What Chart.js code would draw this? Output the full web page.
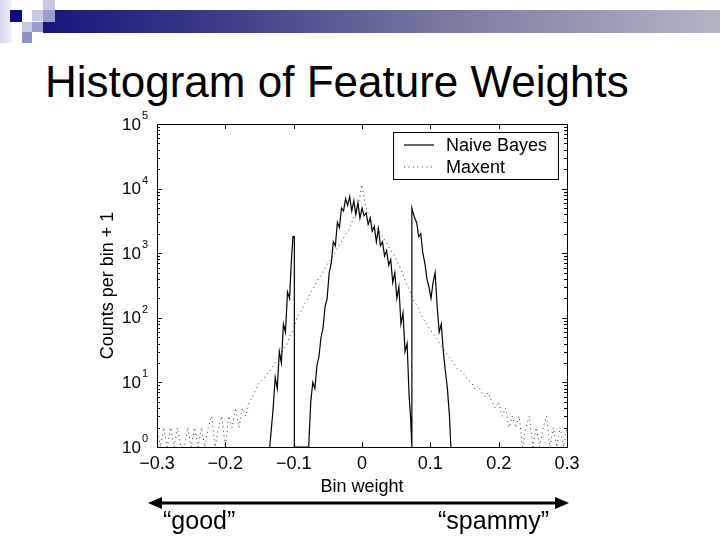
<!DOCTYPE html>
<html>
<head>
<meta charset="utf-8">
<script src="https://cdn.jsdelivr.net/npm/chart.js@4.4.1/dist/chart.umd.min.js"></script>
<style>
  body { margin: 0; background: #fff; }
  #slide { position: relative; width: 720px; height: 540px; overflow: hidden; background: #fff;
           font-family: "Liberation Sans", Arial, sans-serif; }
  .sq { position: absolute; }
  #title { position: absolute; left: 45px; top: 60px; font-size: 44px; line-height: 44px; color: #000; white-space: nowrap; }
  .lab { position: absolute; font-size: 25px; line-height: 25px; color: #000; white-space: nowrap; }
  canvas { position: absolute; left: 0; top: 0; }
</style>
</head>
<body>
<div id="slide">
  <div class="sq" style="left:0;top:0;width:12px;height:43px;background:linear-gradient(to right,#d4d4ec,#f4f4fa);"></div>
  <div class="sq" style="left:43px;top:10px;width:677px;height:23px;background:linear-gradient(to right,#16167e,#3a3a86 25%,#7a7aa2 60%,#b4b4c6);"></div>
  <div class="sq" style="left:10px;top:10px;width:12px;height:12px;background:#0c0c80;"></div>
  <div class="sq" style="left:32px;top:10px;width:11px;height:11px;background:#c8c8e4;"></div>
  <div class="sq" style="left:43px;top:0;width:12px;height:10px;background:#c8c8e4;"></div>
  <div class="sq" style="left:43px;top:10px;width:12px;height:12px;background:#9c9cd0;"></div>
  <div class="sq" style="left:22px;top:22px;width:10px;height:10px;background:#c8c8e4;"></div>
  <div class="sq" style="left:32px;top:22px;width:11px;height:10px;background:#9c9cd0;"></div>
  <div class="sq" style="left:22px;top:32px;width:10px;height:11px;background:#9090c8;"></div>
  <div id="title">Histogram of Feature Weights</div>
  <canvas id="chart" width="720" height="540"></canvas>
  <svg style="position:absolute;left:0;top:0" width="720" height="540">
    <line x1="160" y1="503" x2="557" y2="503" stroke="#000" stroke-width="3"/>
    <polygon points="148,503 162,497 162,509" fill="#000"/>
    <polygon points="569,503 555,497 555,509" fill="#000"/>
  </svg>
  <div class="lab" style="left:163px;top:508px;">“good”</div>
  <div class="lab" style="left:438px;top:508px;">“spammy”</div>
</div>
<script>
// x axis ticks
let xTicks = [-0.3, -0.2, -0.1, 0, 0.1, 0.2, 0.3];
let yDecades = [0, 1, 2, 3, 4, 5];

// Naive Bayes histogram (bin weight, counts per bin + 1)
let nbX = [-0.135, -0.130, -0.127, -0.124, -0.121, -0.118, -0.115, -0.112, -0.109, -0.106, -0.103, -0.101, -0.099, -0.099,
  -0.078, -0.075, -0.072, -0.069, -0.066, -0.063, -0.060, -0.057, -0.054, -0.051, -0.048, -0.045, -0.042, -0.039, -0.036,
  -0.033, -0.030, -0.027, -0.024, -0.021, -0.018, -0.015, -0.012, -0.009, -0.006, -0.003, 0.000, 0.003, 0.006, 0.009,
  0.012, 0.015, 0.018, 0.021, 0.024, 0.027, 0.030, 0.033, 0.036, 0.039, 0.042, 0.045, 0.048, 0.051, 0.054, 0.057,
  0.060, 0.063, 0.066, 0.069, 0.071, 0.073, 0.073, 0.077, 0.080, 0.083, 0.086, 0.089, 0.092, 0.095, 0.098, 0.101,
  0.104, 0.107, 0.110, 0.113, 0.116, 0.119, 0.122, 0.125, 0.128, 0.130];
let nbY = [1, 4, 12, 8, 30, 20, 80, 60, 250, 200, 900, 1800, 1800, 1,
  1, 5, 10, 8, 18, 25, 50, 70, 150, 200, 500, 700, 1500, 1300, 3000,
  2500, 5000, 4500, 7000, 5500, 7500, 4500, 6500, 4000, 6000, 3500, 5000, 3800, 4200, 2800,
  3500, 2200, 2600, 1500, 2400, 1300, 1500, 900, 1100, 650, 800, 350, 500, 200, 300, 80,
  120, 30, 40, 6, 3, 1, 5000, 3500, 3000, 1800, 2000, 1000, 700, 400, 300, 200,
  350, 500, 150, 60, 80, 30, 15, 8, 3, 1];

// Maxent histogram
let meX = [-0.300, -0.295, -0.290, -0.285, -0.280, -0.275, -0.270, -0.265, -0.260, -0.255, -0.250, -0.245, -0.240,
  -0.235, -0.230, -0.225, -0.220, -0.215, -0.210, -0.205, -0.200, -0.195, -0.190, -0.185, -0.180, -0.175, -0.170,
  -0.165, -0.160, -0.155, -0.150, -0.145, -0.140, -0.135, -0.130, -0.125, -0.120, -0.115, -0.110, -0.105, -0.100,
  -0.095, -0.090, -0.085, -0.080, -0.075, -0.070, -0.065, -0.060, -0.055, -0.050, -0.045, -0.040, -0.035, -0.030,
  -0.025, -0.020, -0.015, -0.010, -0.005, 0.000, 0.005, 0.010, 0.015, 0.020, 0.025, 0.030, 0.035, 0.040, 0.045,
  0.050, 0.055, 0.060, 0.065, 0.070, 0.075, 0.080, 0.085, 0.090, 0.095, 0.100, 0.105, 0.110, 0.115, 0.120, 0.125,
  0.130, 0.135, 0.140, 0.145, 0.150, 0.155, 0.160, 0.165, 0.170, 0.175, 0.180, 0.185, 0.190, 0.195, 0.200, 0.205,
  0.210, 0.215, 0.220, 0.225, 0.230, 0.235, 0.240, 0.245, 0.250, 0.255, 0.260, 0.265, 0.270, 0.275, 0.280, 0.285,
  0.290, 0.295, 0.300];
let meY = [2, 1, 2, 1, 2, 1, 2, 1, 1, 2, 1, 2, 1,
  2, 1, 2, 3, 1, 2, 3, 1, 3, 2, 4, 2, 4, 3,
  5, 6, 8, 10, 11, 13, 15, 18, 21, 24, 33, 38, 55, 65,
  100, 120, 160, 190, 250, 300, 380, 450, 560, 700, 820, 1000, 1250, 1500,
  1900, 2200, 3000, 4000, 6000, 11500, 5500, 3800, 3000, 2600, 2200, 1800, 1500, 1200, 1000,
  800, 620, 460, 340, 260, 190, 160, 120, 95, 80, 65, 55, 45, 38, 32, 27,
  23, 19, 16, 15, 13, 11, 10, 8, 9, 7, 6, 7, 5, 4, 5, 3,
  4, 2, 3, 2, 3, 1, 2, 3, 1, 2, 1, 2, 3, 1, 2, 1,
  2, 1, 2];

const FONT = '"Liberation Sans", Arial, sans-serif';

const frame = {
  id: 'frame',
  afterDatasetsDraw(chart) {
    const ctx = chart.ctx;
    const a = chart.chartArea;
    const x = chart.scales.x, y = chart.scales.y;
    ctx.save();
    ctx.strokeStyle = '#000';
    ctx.lineWidth = 1;
    ctx.beginPath();
    ctx.rect(Math.round(a.left) + 0.5, Math.round(a.top) + 0.5, Math.round(a.width), Math.round(a.height));
    xTicks.forEach(v => {
      const px = Math.round(x.getPixelForValue(v)) + 0.5;
      ctx.moveTo(px, a.bottom); ctx.lineTo(px, a.bottom - 5);
      ctx.moveTo(px, a.top); ctx.lineTo(px, a.top + 5);
    });
    yDecades.forEach(k => {
      for (let m = 1; m <= 9; m++) {
        if (k === 5 && m > 1) break;
        const py = Math.round(y.getPixelForValue(m * Math.pow(10, k))) + 0.5;
        const len = m === 1 ? 5 : 3;
        ctx.moveTo(a.left, py); ctx.lineTo(a.left + len, py);
        ctx.moveTo(a.right, py); ctx.lineTo(a.right - len, py);
      }
    });
    ctx.stroke();

    // y tick labels 10^k
    ctx.fillStyle = '#000';
    yDecades.forEach(k => {
      const py = y.getPixelForValue(Math.pow(10, k));
      ctx.font = '17px ' + FONT;
      ctx.textAlign = 'right';
      ctx.textBaseline = 'middle';
      ctx.fillText('10', a.left - 16, py + 1);
      ctx.font = '11px ' + FONT;
      ctx.textAlign = 'left';
      ctx.fillText(String(k), a.left - 15, py - 8);
    });

    // legend box
    const lx = 393, ly = 132, lw = 165, lh = 47;
    ctx.fillStyle = '#fff';
    ctx.fillRect(lx, ly, lw, lh);
    ctx.strokeRect(lx + 0.5, ly + 0.5, lw, lh);
    chart.data.datasets.forEach((ds, i) => {
      const yy = ly + 13 + i * 22;
      ctx.beginPath();
      ctx.strokeStyle = ds.borderColor;
      ctx.lineWidth = ds.borderWidth;
      ctx.setLineDash(ds.borderDash || []);
      ctx.moveTo(lx + 11, yy); ctx.lineTo(lx + 41, yy);
      ctx.stroke();
      ctx.setLineDash([]);
      ctx.fillStyle = '#000';
      ctx.font = '18px ' + FONT;
      ctx.textAlign = 'left';
      ctx.textBaseline = 'middle';
      ctx.fillText(ds.label, lx + 53, yy + 1);
    });
    ctx.restore();
  }
};

const ctx = document.getElementById('chart').getContext('2d');
const chart = new Chart(ctx, {
  type: 'line',
  data: {
    datasets: [{
      label: 'Naive Bayes',
      data: nbX.map((v, i) => ({ x: v, y: nbY[i] })),
      borderColor: '#000',
      borderWidth: 1.2,
      pointRadius: 0,
      tension: 0,
      order: 1
    }, {
      label: 'Maxent',
      data: meX.map((v, i) => ({ x: v, y: meY[i] })),
      borderColor: '#333',
      borderWidth: 1,
      borderDash: [1, 3.5],
      pointRadius: 0,
      tension: 0,
      order: 2
    }]
  },
  options: {
    responsive: false,
    animation: false,
    devicePixelRatio: 1,
    layout: { padding: { left: 93, right: 153, top: 124, bottom: 38 } },
    plugins: { legend: { display: false }, tooltip: { enabled: false } },
    scales: {
      x: {
        type: 'linear', min: -0.3, max: 0.3,
        afterBuildTicks: s => { s.ticks = xTicks.map(v => ({ value: v })); },
        afterFit: s => { s.height = 55; },
        grid: { display: false, drawTicks: false },
        border: { display: false },
        ticks: {
          color: '#000', padding: 6, maxRotation: 0,
          font: { family: FONT, size: 18 },
          callback: v => (Math.abs(v) < 1e-9 ? '0' : (v < 0 ? '\u2212' : '') + Math.abs(v).toFixed(1))
        },
        title: { display: true, text: 'Bin weight', color: '#000', font: { family: FONT, size: 18 } }
      },
      y: {
        type: 'logarithmic', min: 1, max: 100000,
        afterFit: s => { s.width = 64; },
        grid: { display: false, drawTicks: false },
        border: { display: false },
        ticks: { display: false },
        title: { display: true, text: 'Counts per bin + 1', color: '#000', font: { family: FONT, size: 18 } }
      }
    }
  },
  plugins: [frame]
});
</script>
</body>
</html>
